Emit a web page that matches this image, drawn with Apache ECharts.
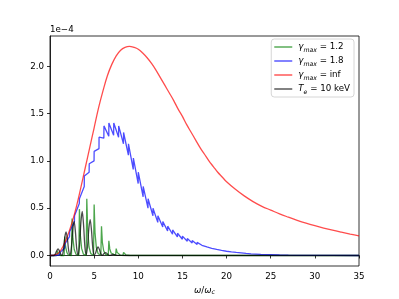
<!DOCTYPE html>
<html><head><meta charset="utf-8">
<script src="https://cdn.jsdelivr.net/npm/echarts@6/dist/echarts.min.js"></script>
<style>html,body{margin:0;padding:0;background:#fff}#c{width:399px;height:299px}</style>
</head><body><div id="c"></div>
<script>
// values in units of 1e-4
var seriesNames = ['g12', 'g18', 'ginf', 'te10'];
var legendLabels = {
  g12: '{m|γ}{s|max}{t| = 1.2}',
  g18: '{m|γ}{s|max}{t| = 1.8}',
  ginf: '{m|γ}{s|max}{t| = inf}',
  te10: '{m|T}{s|e}{t| = 10 keV}'
};
var xTicks = [0, 5, 10, 15, 20, 25, 30, 35];
var yTicks = [0, 0.5, 1.0, 1.5, 2.0];

var red = [[0,0],[0.5,0.004],[1,0.03],[1.5,0.1],[2,0.21],[2.5,0.35],[3,0.52],[3.5,0.72],[4,0.93],[4.5,1.14],[5,1.35],[5.5,1.56],[6,1.74],[6.5,1.9],[7,2.02],[7.5,2.11],[8,2.17],[8.5,2.2],[9,2.21],[9.5,2.2],[10,2.18],[10.5,2.14],[11,2.09],[11.5,2.03],[12,1.96],[12.5,1.88],[13,1.8],[13.5,1.72],[14,1.64],[14.5,1.55],[15,1.47],[15.5,1.38],[16,1.3],[16.5,1.22],[17,1.14],[17.5,1.07],[18,1.0],[18.5,0.94],[19,0.88],[19.5,0.83],[20,0.78],[21,0.7],[22,0.63],[23,0.57],[24,0.52],[25,0.48],[26,0.44],[27,0.405],[28,0.372],[29,0.342],[30,0.315],[31,0.29],[32,0.267],[33,0.246],[34,0.226],[35,0.207]];

var blue = [[0,0],[0.556,0],[0.556,0.002],[1.1,0.008],[1.111,0.03],[1.66,0.08],[1.667,0.12],[2.21,0.2],[2.222,0.25],[2.77,0.36],[2.778,0.42],[3.32,0.55],[3.333,0.6],[3.88,0.73],[3.889,0.84],[4.43,0.88],[4.444,0.97],[4.99,1.0],[5.0,1.1],[5.55,1.13],[5.556,1.25],[6.1,1.24],[6.111,1.37],[6.66,1.26],[6.667,1.40],[7.21,1.27],[7.222,1.40],[7.77,1.25],[7.778,1.37],[8.32,1.18],[8.333,1.30],[8.88,1.06],[8.889,1.18],[9.43,0.91],[9.444,1.03],[9.99,0.76],[10.0,0.88],[10.55,0.62],[10.556,0.73],[11.1,0.5],[11.111,0.60],[11.66,0.42],[11.667,0.50],[12.21,0.35],[12.222,0.42],[12.77,0.30],[12.778,0.36],[13.32,0.26],[13.333,0.31],[13.88,0.225],[13.889,0.27],[14.43,0.197],[14.444,0.235],[14.99,0.172],[15.0,0.205],[15.55,0.151],[15.556,0.18],[16.1,0.133],[16.111,0.158],[16.66,0.117],[16.667,0.139],[17.21,0.108],[17.222,0.125],[17.77,0.09],[17.778,0.105],[18.32,0.076],[18.333,0.088],[18.88,0.064],[18.889,0.074],[19.43,0.054],[19.444,0.062],[19.99,0.045],[20.0,0.052],[20.55,0.038],[20.556,0.044],[21.1,0.032],[21.111,0.037],[21.66,0.027],[21.667,0.031],[22.21,0.022],[22.222,0.026],[22.77,0.018],[22.778,0.021],[23.32,0.015],[23.333,0.017],[23.88,0.012],[23.889,0.014],[24.43,0.0095],[24.444,0.011],[25,0.008],[26,0.0055],[27,0.0035],[28,0.0022],[30,0.001],[32,0.0004],[35,0.0001]];

var green = [[0,0],[0.78,0],[0.833,0.05],[0.93,0.022],[1.05,0.006],[1.2,0],
[1.6,0],[1.667,0.2],[1.77,0.09],[1.92,0.03],[2.1,0.005],[2.43,0],
[2.5,0.39],[2.6,0.175],[2.75,0.06],[2.95,0.012],[3.15,0],[3.26,0],
[3.333,0.49],[3.43,0.22],[3.58,0.075],[3.78,0.015],[4.0,0.002],[4.1,0],
[4.167,0.6],[4.27,0.27],[4.42,0.09],[4.62,0.02],[4.93,0.003],
[5.0,0.54],[5.1,0.24],[5.25,0.085],[5.45,0.02],[5.76,0.005],
[5.833,0.31],[5.93,0.14],[6.08,0.05],[6.28,0.013],[6.6,0.004],
[6.667,0.155],[6.77,0.07],[6.92,0.026],[7.12,0.008],[7.43,0.003],
[7.5,0.072],[7.6,0.033],[7.75,0.013],[7.95,0.005],[8.26,0.002],
[8.333,0.033],[8.43,0.016],[8.6,0.006],[9.1,0.001],
[9.167,0.013],[9.27,0.006],[9.45,0.002],[9.93,0.0005],
[10.0,0.006],[10.1,0.003],[10.4,0.001],[11,0.0003],[35,0]];

var black = [[0,0],[0.45,0],[0.6,0.015],[0.76,0.05],[0.91,0.07],[1.06,0.05],[1.21,0.015],[1.36,0.002],
[1.52,0.06],[1.67,0.19],[1.82,0.25],[1.97,0.175],[2.12,0.05],[2.27,0.003],
[2.43,0.09],[2.58,0.27],[2.73,0.36],[2.88,0.25],[3.03,0.07],[3.19,0.004],
[3.35,0.116],[3.5,0.35],[3.65,0.465],[3.8,0.325],[3.95,0.093],[4.1,0.006],
[4.25,0.095],[4.4,0.285],[4.55,0.38],[4.7,0.266],[4.85,0.076],[5.0,0.005],
[5.15,0.023],[5.3,0.068],[5.45,0.09],[5.6,0.063],[5.75,0.018],[5.9,0.003],
[6.0,0.008],[6.15,0.023],[6.3,0.03],[6.45,0.021],[6.6,0.006],[6.75,0.002],
[6.95,0.006],[7.15,0.012],[7.35,0.006],[7.6,0.002],[8,0.001],[9,0],[35,0]];

var colors = {g12: 'rgba(0,128,0,0.7)', g18: 'rgba(0,0,255,0.7)', ginf: 'rgba(255,0,0,0.7)', te10: 'rgba(0,0,0,0.7)'};
var dataMap = {g12: green, g18: blue, ginf: red, te10: black};
var smoothMap = {g12: false, g18: false, ginf: 0.4, te10: 0.3};

var chart = echarts.init(document.getElementById('c'), null, {renderer: 'canvas'});
var font = 'DejaVu Sans';
var fs = 8.7;
chart.setOption({
  animation: false,
  textStyle: {fontFamily: font},
  grid: {left: 50, right: 40, top: 36, bottom: 33, show: true, borderColor: '#000', borderWidth: 0.8, backgroundColor: 'transparent', containLabel: false, outerBoundsMode: 'none'},
  xAxis: {
    type: 'value', min: 0, max: 35, interval: 5,
    axisLine: {show: true, lineStyle: {color: '#000', width: 0.8}},
    axisTick: {show: true, inside: false, length: 3, lineStyle: {color: '#000', width: 0.8}},
    axisLabel: {color: '#000', fontSize: fs, margin: 6, fontFamily: font,
      formatter: function (v) { return xTicks.indexOf(v) >= 0 ? String(v) : ''; }},
    splitLine: {show: false},
    name: '{i|ω}{t|/}{i|ω}{s|c}', nameLocation: 'middle', nameGap: 15,
    nameTextStyle: {color: '#000', fontFamily: font, rich: {
      i: {fontStyle: 'italic', fontSize: fs, fontFamily: font, color: '#000'},
      t: {fontSize: fs, fontFamily: font, color: '#000'},
      s: {fontStyle: 'italic', fontSize: 6.2, fontFamily: font, color: '#000', verticalAlign: 'bottom', padding: [4, 0, 0, 0]}
    }}
  },
  yAxis: {
    type: 'value', min: -0.111, max: 2.32,
    axisLine: {show: true, lineStyle: {color: '#000', width: 0.8}},
    axisTick: {show: true, inside: false, length: 3, customValues: yTicks, lineStyle: {color: '#000', width: 0.8}},
    axisLabel: {color: '#000', fontSize: fs, margin: 6, fontFamily: font, customValues: yTicks,
      formatter: function (v) { return v.toFixed(1); }},
    splitLine: {show: false}
  },
  legend: {
    orient: 'vertical', right: 45, top: 39,
    data: seriesNames,
    backgroundColor: 'rgba(255,255,255,0.8)', borderColor: '#cccccc', borderWidth: 0.8, borderRadius: 3,
    padding: [2, 4, 2, 3], itemGap: 2, itemWidth: 18, itemHeight: 1.4,
    icon: 'rect',
    formatter: function (n) { return legendLabels[n]; },
    textStyle: {color: '#000', fontFamily: font, fontSize: fs, lineHeight: 12, padding: [0, 0, 0, 1], rich: {
      m: {fontStyle: 'italic', fontSize: fs, fontFamily: font, color: '#000'},
      t: {fontSize: fs, fontFamily: font, color: '#000'},
      s: {fontStyle: 'italic', fontSize: 6.2, fontFamily: font, color: '#000', verticalAlign: 'bottom', padding: [3, 0, 0, 0]}
    }}
  },
  graphic: [{type: 'text', left: 50, top: 25, style: {text: '1e\u22124', fontSize: fs, fontFamily: font, fill: '#000'}}],
  series: seriesNames.map(function (n) {
    return {
      name: n, type: 'line', data: dataMap[n], symbol: 'none', showSymbol: false,
      smooth: smoothMap[n], clip: true,
      itemStyle: {color: colors[n]},
      lineStyle: {color: colors[n], width: 1.3}
    };
  })
});
</script></body></html>
